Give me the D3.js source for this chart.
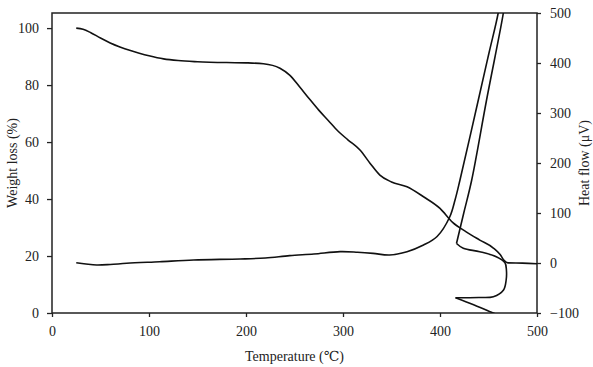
<!DOCTYPE html>
<html>
<head>
<meta charset="utf-8">
<script src="https://cdn.jsdelivr.net/npm/d3@7"></script>
<style>
  body { margin: 0; background: #fff; }
  svg text { font-family: "Liberation Serif", "DejaVu Serif", serif; fill: #222; }
</style>
</head>
<body>
<div id="chart"></div>
<script>
// TG curve: temperature (°C) vs weight loss (%)
const tgTemp   = [25, 32, 40, 50, 60, 70, 80, 90, 100, 115, 130, 150, 180, 200, 218, 235, 245, 255, 265, 275, 285, 295, 305, 317.5, 328, 338, 350, 366, 383, 400, 413, 427, 441, 455, 462, 466, 470, 485, 500]
const tgWeight = [100, 99.6, 98.4, 96.5, 94.8, 93.4, 92.2, 91.2, 90.3, 89.2, 88.6, 88.2, 87.9, 87.8, 87.5, 85.9, 83.5, 79.5, 75.3, 71.2, 67.5, 63.8, 60.8, 57.2, 52.5, 48.4, 46, 44.3, 40.8, 36.7, 31.8, 28.5, 25.6, 22.8, 20.5, 18.5, 17.6, 17.5, 17.3]

// DTA curve: temperature (°C) vs heat flow (µV), drawn in three pieces split at its sharp turns
const dtaTemp = [25, 35, 46, 60, 77, 111, 146, 194, 220, 245, 270, 297, 315, 331, 348, 366, 383, 397, 410, 415.5, 420.6, 439.5, 450.5, 460, 463, 466.5, 465.3, 448, 432.7, 424.5, 417,
                 424, 441, 458, 467, 468.5, 468.2, 465.5, 455, 440, 416,
                 434, 451, 460]
const dtaHeat = [0.5, -2, -4, -3, -0.6, 2.6, 6, 8, 10, 14.7, 18, 22.7, 21.5, 19.3, 16, 22.7, 36, 53, 92, 126, 166, 326, 420, 500, 540, 520, 500, 326, 166, 100, 39,
                 29.4, 22.6, 12.6, 0.6, -15, -34, -54, -67.4, -69, -69.5,
                 -83, -97, -104]
const dtaBreaks = [0, 30, 40, dtaTemp.length - 1]

const xTicks = [0, 100, 200, 300, 400, 500]
const yLeftTicks = [0, 20, 40, 60, 80, 100]
const yRightTicks = [-100, 0, 100, 200, 300, 400, 500]

const W = 593, H = 367
const margin = {top: 13, right: 56, bottom: 54, left: 52}
const width = W - margin.left - margin.right
const height = H - margin.top - margin.bottom

const svg = d3.select("#chart").append("svg")
  .attr("width", W).attr("height", H)

const g = svg.append("g")
  .attr("transform", "translate(" + margin.left + "," + margin.top + ")")

const x = d3.scaleLinear().domain([0, 500]).range([0, width])
const yL = d3.scaleLinear().domain([0, 105.3]).range([height, 0])
const yR = d3.scaleLinear().domain([-100, 500]).range([height, 0])

g.append("clipPath").attr("id", "plot-clip")
  .append("rect").attr("width", width).attr("height", height)

function styleAxis(sel) {
  sel.select(".domain").remove()
  sel.selectAll(".tick line").attr("stroke", "#222").attr("stroke-width", 1.3)
  sel.selectAll(".tick text").attr("font-size", 14).attr("fill", "#222")
}

g.append("g")
  .attr("transform", "translate(0," + height + ")")
  .call(d3.axisBottom(x).tickValues(xTicks).tickSize(4).tickPadding(9))
  .call(styleAxis)

g.append("g")
  .call(d3.axisLeft(yL).tickValues(yLeftTicks).tickSize(5).tickPadding(8))
  .call(styleAxis)

g.append("g")
  .attr("transform", "translate(" + width + ",0)")
  .call(d3.axisRight(yR).tickValues(yRightTicks).tickSize(4).tickPadding(9))
  .call(styleAxis)

// frame
g.append("rect")
  .attr("width", width).attr("height", height)
  .attr("fill", "none").attr("stroke", "#222").attr("stroke-width", 1.5)

const tgLine = d3.line()
  .x((d, i) => x(tgTemp[i]))
  .y(d => yL(d))
  .curve(d3.curveMonotoneX)

const dtaLine = d3.line()
  .x(d => x(d[0]))
  .y(d => yR(d[1]))
  .curve(d3.curveCatmullRom.alpha(0.5))

const curves = g.append("g").attr("clip-path", "url(#plot-clip)")

curves.append("path")
  .datum(tgWeight)
  .attr("fill", "none").attr("stroke", "#111").attr("stroke-width", 1.6)
  .attr("d", tgLine)

const dtaPts = dtaTemp.map((t, i) => [t, dtaHeat[i]])
const dtaPieces = d3.pairs(dtaBreaks).map(([a, b]) => dtaPts.slice(a, b + 1))

curves.selectAll(".dta")
  .data(dtaPieces)
  .join("path")
  .attr("class", "dta")
  .attr("fill", "none").attr("stroke", "#111").attr("stroke-width", 1.6)
  .attr("stroke-linejoin", "miter")
  .attr("d", dtaLine)

// axis titles
svg.append("text")
  .attr("transform", "translate(12," + (margin.top + height / 2) + ") rotate(-90)")
  .attr("text-anchor", "middle").attr("dominant-baseline", "central")
  .attr("font-size", 14)
  .text("Weight loss (%)")

svg.append("text")
  .attr("transform", "translate(584," + (margin.top + height / 2) + ") rotate(-90)")
  .attr("text-anchor", "middle").attr("dominant-baseline", "central")
  .attr("font-size", 14)
  .text("Heat flow (μV)")

svg.append("text")
  .attr("x", margin.left + width / 2).attr("y", 361)
  .attr("text-anchor", "middle")
  .attr("font-size", 14)
  .text("Temperature (℃)")
</script>
</body>
</html>
